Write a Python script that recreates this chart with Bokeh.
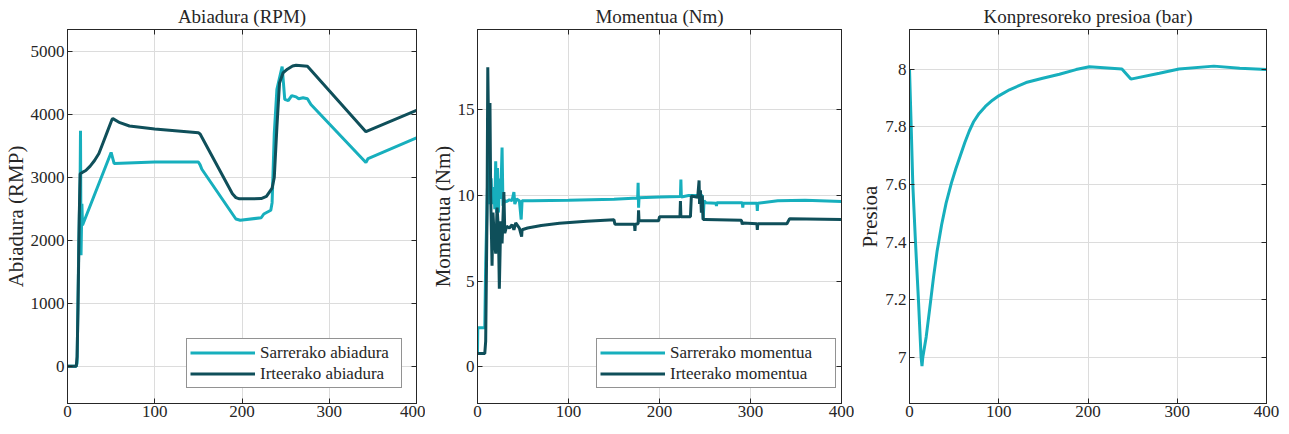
from bokeh.plotting import figure
from bokeh.layouts import row
from bokeh.models import (LinearAxis, Range1d, FixedTicker, CustomJSTickFormatter,
                          Legend, LegendItem)
from bokeh.embed import file_html
from bokeh.resources import INLINE

# ---------------- data ----------------
x_ticks = [0, 100, 200, 300, 400]

# Speed (RPM)
speed_in_t = [0, 10, 11, 13, 14.5, 14.9, 15.5, 16.5, 17.2, 50, 53.5, 100, 150, 152, 154,
              193, 198, 222, 225, 233, 234.5, 237, 240, 246, 249, 253, 257, 262, 265,
              270, 275, 279, 342, 344.5, 400]
speed_in = [0, 0, 50, 2000, 3000, 3740, 1765, 2580, 2240, 3397, 3220, 3245, 3245, 3200, 3130,
            2340, 2320, 2360, 2420, 2480, 2600, 3700, 4400, 4760, 4240, 4220, 4300, 4280, 4250,
            4265, 4250, 4160, 3238, 3300, 3630]
speed_out_t = [0, 10, 11, 12, 13.5, 14.5, 17, 21, 26, 31, 36, 41, 46, 51, 52, 60, 71, 100,
               150, 152, 189, 193, 197, 222, 228, 232, 234.5, 237, 240, 243, 247, 252, 258,
               262, 275, 342, 400]
speed_out = [0, 0, 150, 900, 2400, 3060, 3080, 3110, 3180, 3270, 3380, 3560, 3740, 3920, 3935,
             3870, 3818, 3770, 3710, 3690, 2740, 2680, 2660, 2665, 2700, 2780, 2830, 3000, 3800,
             4500, 4660, 4720, 4770, 4782, 4765, 3728, 4065]
speed_ticks = [0, 1000, 2000, 3000, 4000, 5000]

# Torque (Nm)
torque_in_t = [0, 0.3, 8, 9, 10.5, 12, 13, 15, 16, 18, 19, 20, 21, 22, 23, 24, 25.5, 27, 28,
               30, 32, 35, 38, 40, 41, 43, 46, 48, 49, 60, 100, 150, 176, 176.5, 177, 177.5,
               200, 223, 223.5, 224, 232, 247, 248, 249, 251, 262, 262.6, 263, 291, 291.5,
               292, 307, 307.5, 308, 330, 360, 400]
torque_in = [0.77, 2.28, 2.28, 6, 9.5, 12.5, 9.5, 11, 9.5, 10.5, 9.2, 12.0, 9.0, 11.6, 9.0, 11.0,
             9.8, 12.8, 9.4, 9.7, 9.65, 9.75, 9.7, 10.2, 9.5, 9.8, 9.7, 8.6, 9.7, 9.7, 9.72,
             9.78, 9.85, 10.74, 9.29, 9.87, 9.92, 9.95, 10.94, 9.92, 10.0, 10.0, 8.6, 9.7, 9.58,
             9.55, 9.39, 9.58, 9.58, 9.29, 9.55, 9.55, 9.1, 9.55, 9.7, 9.72, 9.65]
torque_out_t = [0, 8, 9, 10.5, 11.3, 12.5, 13.7, 14.5, 16, 17, 18.5, 20, 21.5, 23, 24, 25.5,
                27, 29, 30, 32, 35, 38, 40, 42, 46, 48.5, 49, 55, 70, 90, 120, 150, 151, 172.5,
                173, 173.5, 176.5, 177, 177.5, 199, 200, 222.5, 223, 223.5, 234, 235, 242,
                243.5, 244, 245, 246, 247, 248, 250, 290, 291, 292, 307, 307.5, 308, 340, 343, 400]
torque_out = [0.77, 0.77, 1.5, 9, 17.5, 12.5, 15.4, 10, 5.9, 9, 7.5, 6.6, 9.3, 8, 4.55, 8.5,
              7.2, 10.2, 7.8, 8.2, 8.1, 8.3, 8.0, 8.4, 8.1, 7.6, 8.0, 8.1, 8.25, 8.38, 8.5,
              8.58, 8.32, 8.32, 7.94, 8.32, 8.35, 9.14, 8.52, 8.52, 8.76, 8.76, 9.68, 8.76, 8.76,
              9.97, 9.9, 10.88, 9.5, 10.3, 9.0, 10.0, 8.6, 8.6, 8.55, 8.32, 8.4, 8.35, 8.0, 8.35,
              8.35, 8.65, 8.6]
torque_ticks = [0, 5, 10, 15]

# Pressure (bar)
pres_t = [0, 1.9, 3.7, 6.7, 10, 13, 14, 14.9, 18.7, 22.4, 27, 31, 36, 41, 47, 52, 57, 62,
          67, 72, 78, 85, 93, 100, 112, 130.6, 149.2, 168, 186.6, 201.5, 238, 248, 280, 302,
          341, 370, 400]
pres = [8.0, 7.8, 7.6, 7.4, 7.2, 7.0, 6.97, 7.0, 7.071, 7.163, 7.28, 7.37, 7.46, 7.535,
        7.605, 7.655, 7.70, 7.745, 7.785, 7.818, 7.846, 7.870, 7.892, 7.907, 7.928, 7.953,
        7.968, 7.982, 7.998, 8.008, 8.0, 7.965, 7.985, 8.0, 8.01, 8.003, 7.998]
pres_ticks = [7, 7.2, 7.4, 7.6, 7.8, 8]

# ---------------- style ----------------
FONT = "Liberation Serif"
CYAN = "#17AFBD"
DARK = "#0F4F5A"
AXC = "#262626"
FH = 374


def style_axis(ax, show_labels=True):
    ax.major_tick_in = 5
    ax.major_tick_out = 0
    ax.minor_tick_line_color = None
    ax.axis_line_color = AXC
    ax.major_tick_line_color = AXC
    ax.major_label_text_font = FONT
    if show_labels:
        ax.major_label_text_color = AXC
        ax.major_label_text_font_size = "17px"
        ax.major_label_standoff = 3
    else:
        ax.major_label_text_color = None
        ax.major_label_text_font_size = "1px"
        ax.major_label_standoff = 0


def make_fig(title, ylabel, yr, yticks, fw, left, right):
    p = figure(frame_width=fw, frame_height=FH, min_border_left=left, min_border_right=right,
               min_border_top=0, min_border_bottom=21,
               x_range=Range1d(0, 400), y_range=Range1d(*yr),
               output_backend="svg", toolbar_location=None, title=title)
    p.title.align = "center"
    p.title.text_font = FONT
    p.title.text_font_size = "19px"
    p.title.text_font_style = "normal"
    p.title.text_color = AXC
    p.title.standoff = 6
    p.xaxis.ticker = FixedTicker(ticks=x_ticks)
    p.yaxis.ticker = FixedTicker(ticks=yticks)
    p.yaxis.formatter = CustomJSTickFormatter(code="return String(Math.round(tick*10)/10);")
    for ax in p.xaxis + p.yaxis:
        style_axis(ax)
    p.xaxis.major_label_standoff = 2
    p.yaxis.axis_label = ylabel
    p.yaxis.axis_label_text_font = FONT
    p.yaxis.axis_label_text_font_size = "21px"
    p.yaxis.axis_label_text_font_style = "normal"
    p.yaxis.axis_label_text_color = AXC
    p.yaxis.axis_label_standoff = 0
    ra = LinearAxis(ticker=FixedTicker(ticks=yticks))
    style_axis(ra, False)
    p.add_layout(ra, "right")
    ta = LinearAxis(ticker=FixedTicker(ticks=x_ticks))
    style_axis(ta, False)
    p.add_layout(ta, "above")
    p.xgrid.ticker = FixedTicker(ticks=x_ticks)
    p.ygrid.ticker = FixedTicker(ticks=yticks)
    p.grid.grid_line_color = "#DCDCDC"
    p.grid.grid_line_width = 1
    p.outline_line_color = AXC
    p.background_fill_color = "white"
    return p


def add_legend(p, items, label_width, loc):
    lg = Legend(items=items, location=loc)
    lg.label_text_font = FONT
    lg.label_text_font_size = "17px"
    lg.label_text_color = AXC
    lg.glyph_width = 65
    lg.glyph_height = 21
    lg.label_height = 21
    lg.label_width = label_width
    lg.label_standoff = 5
    lg.spacing = 0
    lg.padding = 3
    lg.margin = 0
    lg.border_line_color = AXC
    lg.border_line_width = 1
    lg.background_fill_alpha = 1
    p.add_layout(lg)


# Panel 1: speed
p1 = make_fig("Abiadura (RPM)", "Abiadura (RMP)", (-590, 5350), speed_ticks, 349, 60, 9)
r1a = p1.line(speed_in_t, speed_in, line_color=CYAN, line_width=3)
r1b = p1.line(speed_out_t, speed_out, line_color=DARK, line_width=3)
add_legend(p1, [LegendItem(label="Sarrerako abiadura", renderers=[r1a]),
                LegendItem(label="Irteerako abiadura", renderers=[r1b])], 138, (119, 15))

# Panel 2: torque
p2 = make_fig("Momentua (Nm)", "Momentua (Nm)", (-2.15, 19.7), torque_ticks, 364, 52, 13)
r2a = p2.line(torque_in_t, torque_in, line_color=CYAN, line_width=3)
r2b = p2.line(torque_out_t, torque_out, line_color=DARK, line_width=3)
add_legend(p2, [LegendItem(label="Sarrerako momentua", renderers=[r2a]),
                LegendItem(label="Irteerako momentua", renderers=[r2b])], 162, (119, 15))

# Panel 3: pressure
p3 = make_fig("Konpresoreko presioa (bar)", "Presioa", (6.84, 8.137), pres_ticks, 357, 55, 14)
p3.line(pres_t, pres, line_color=CYAN, line_width=3)

layout = row(p1, p2, p3)
open("out.html", "w").write(file_html(layout, INLINE))
